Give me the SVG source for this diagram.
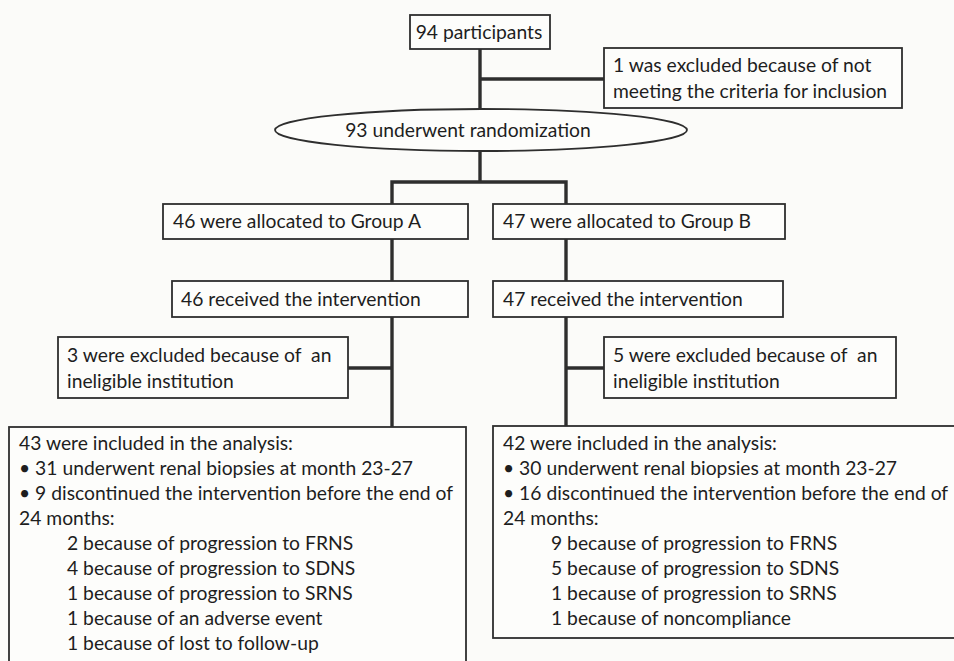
<svg xmlns="http://www.w3.org/2000/svg" width="954" height="661" viewBox="0 0 954 661">
<style>
.box{fill:#fdfdfb;stroke:#2e2e2e;stroke-width:1.8}
.t{font-family:Lato,"Liberation Sans",sans-serif;font-size:19.3px;fill:#1e1e1e;white-space:pre}
.c{stroke:#2e2e2e;stroke-width:3.4;fill:none}
</style>
<rect x="0" y="0" width="954" height="661" fill="#fbfbf9"/>
<g id="connectors">
<line class="c" x1="480" y1="49" x2="480" y2="108"/>
<line class="c" x1="480" y1="79" x2="604" y2="79"/>
<line class="c" x1="480" y1="152" x2="480" y2="182"/>
<polyline class="c" points="392,204 392,182 566,182 566,204"/>
<line class="c" x1="392" y1="239" x2="392" y2="281"/>
<line class="c" x1="566" y1="239" x2="566" y2="281"/>
<line class="c" x1="392" y1="317" x2="392" y2="427"/>
<line class="c" x1="566" y1="317" x2="566" y2="426"/>
<line class="c" x1="348" y1="368" x2="392" y2="368"/>
<line class="c" x1="566" y1="368" x2="604" y2="368"/>
</g>
<g id="n-participants">
<rect class="box" x="410" y="15" width="140" height="34"/>
<text class="t" x="479" y="39" text-anchor="middle">94 participants</text>
</g>
<g id="n-excluded1">
<rect class="box" x="604" y="48" width="298" height="60"/>
<text class="t" x="613" y="72">1 was excluded because of not</text>
<text class="t" x="613" y="98">meeting the criteria for inclusion</text>
</g>
<g id="n-random">
<ellipse class="box" cx="481" cy="130" rx="206" ry="21"/>
<text class="t" x="468" y="137" text-anchor="middle">93 underwent randomization</text>
</g>
<g id="n-groupA">
<rect class="box" x="163" y="204" width="305" height="35"/>
<text class="t" x="173" y="228">46 were allocated to Group A</text>
</g>
<g id="n-groupB">
<rect class="box" x="493" y="204" width="292" height="35"/>
<text class="t" x="503" y="228">47 were allocated to Group B</text>
</g>
<g id="n-recA">
<rect class="box" x="172" y="281" width="296" height="36"/>
<text class="t" x="181" y="306">46 received the intervention</text>
</g>
<g id="n-recB">
<rect class="box" x="493" y="281" width="290" height="36"/>
<text class="t" x="503" y="306">47 received the intervention</text>
</g>
<g id="n-exclA">
<rect class="box" x="58" y="337" width="290" height="61"/>
<text class="t" x="67" y="362">3 were excluded because of  an</text>
<text class="t" x="67" y="388">ineligible institution</text>
</g>
<g id="n-exclB">
<rect class="box" x="604" y="337" width="292" height="61"/>
<text class="t" x="613" y="362">5 were excluded because of  an</text>
<text class="t" x="613" y="388">ineligible institution</text>
</g>
<g id="n-analysisA">
<rect class="box" x="9" y="427" width="457" height="245"/>
<text class="t" x="19" y="450">43 were included in the analysis:</text>
<text class="t" x="19" y="475">• 31 underwent renal biopsies at month 23-27</text>
<text class="t" x="19" y="500">• 9 discontinued the intervention before the end of</text>
<text class="t" x="19" y="525">24 months:</text>
<text class="t" x="67" y="550">2 because of progression to FRNS</text>
<text class="t" x="67" y="575">4 because of progression to SDNS</text>
<text class="t" x="67" y="600">1 because of progression to SRNS</text>
<text class="t" x="67" y="625">1 because of an adverse event</text>
<text class="t" x="67" y="650">1 because of lost to follow-up</text>
</g>
<g id="n-analysisB">
<rect class="box" x="493" y="426" width="480" height="212"/>
<text class="t" x="503" y="450">42 were included in the analysis:</text>
<text class="t" x="503" y="475">• 30 underwent renal biopsies at month 23-27</text>
<text class="t" x="503" y="500">• 16 discontinued the intervention before the end of</text>
<text class="t" x="503" y="525">24 months:</text>
<text class="t" x="551" y="550">9 because of progression to FRNS</text>
<text class="t" x="551" y="575">5 because of progression to SDNS</text>
<text class="t" x="551" y="600">1 because of progression to SRNS</text>
<text class="t" x="551" y="625">1 because of noncompliance</text>
</g>
</svg>
